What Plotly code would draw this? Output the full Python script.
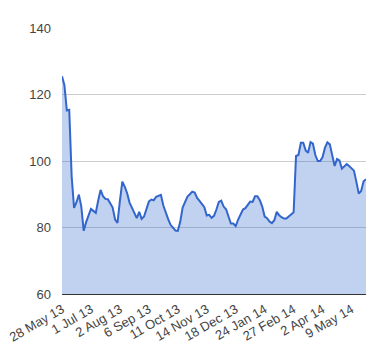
import plotly.graph_objects as go

# closing values sampled every 2 trading days (index 0 = 28 May 13)
day_step = 2
values = [
    125.5, 122.8, 115.2, 115.4, 95.4, 85.9, 87.6, 89.9, 86.3, 79.0,
    81.6, 83.7, 85.6, 85.0, 84.4, 88.1, 91.3, 89.4, 88.6, 88.5,
    87.2, 86.0, 82.4, 81.4, 88.0, 93.8, 92.3, 90.3, 87.5, 85.9,
    84.1, 82.8, 84.7, 82.6, 83.3, 85.3, 87.8, 88.4, 88.2, 89.2,
    89.6, 89.8, 86.6, 84.2, 82.5, 80.8, 80.0, 79.1, 79.0, 81.7,
    86.0, 87.8, 89.3, 90.0, 90.8, 90.5, 88.9, 88.0, 87.1, 86.1,
    83.6, 83.8, 82.9, 83.5, 85.4, 87.7, 88.1, 86.3, 85.5, 83.4,
    81.2, 81.2, 80.4, 82.4, 83.9, 85.4, 85.8, 86.8, 87.8, 87.7,
    89.4, 89.4, 88.2, 86.3, 83.3, 82.8, 81.8, 81.3, 82.2, 84.7,
    83.7, 83.1, 82.7, 82.7, 83.4, 84.0, 84.6, 101.5, 101.8, 105.5,
    105.5, 103.2, 102.5, 105.7, 105.2, 101.8, 100.0, 100.0, 101.2, 104.0,
    105.6, 105.0, 101.4, 98.5, 100.6, 100.2, 97.7, 98.3, 99.1, 98.5,
    97.9, 97.1, 93.8, 90.2, 91.0, 93.9, 94.5,
]
days = [i * day_step for i in range(len(values))]

tick_days = [0, 24, 48, 72, 96, 120, 144, 168, 192, 216, 240]
tick_labels = ["28 May 13", "1 Jul 13", "2 Aug 13", "6 Sep 13", "11 Oct 13",
               "14 Nov 13", "18 Dec 13", "24 Jan 14", "27 Feb 14", "2 Apr 14",
               "9 May 14"]
y_ticks = [60, 80, 100, 120, 140]

fig = go.Figure(go.Scatter(
    x=days, y=values, mode="lines", fill="tozeroy",
    line=dict(color="#3366cc", width=2),
    fillcolor="rgba(51,102,204,0.3)",
    hoverinfo="skip",
))

# the page body adds an 8px offset, compensated in the margins
fig.update_layout(
    width=380, height=360,
    margin=dict(l=54, r=22, t=20, b=74, autoexpand=False),
    paper_bgcolor="white", plot_bgcolor="white",
    showlegend=False,
    font=dict(family="Arial, Liberation Sans, sans-serif", size=13, color="#444"),
    xaxis=dict(range=[0, 252], tickmode="array", tickvals=tick_days,
               ticktext=tick_labels, tickangle=-30, showgrid=False,
               zeroline=False, showline=True, linecolor="#333", linewidth=1,
               ticks="", ticklabelstandoff=2, automargin=False,
               ticklabeloverflow="allow"),
    yaxis=dict(range=[60, 140], tickmode="array", tickvals=y_ticks,
               showgrid=True, gridcolor="#cccccc", gridwidth=1,
               zeroline=False, showline=False, ticks="",
               ticklabelstandoff=10, automargin=False),
)

fig.write_html("out.html")
